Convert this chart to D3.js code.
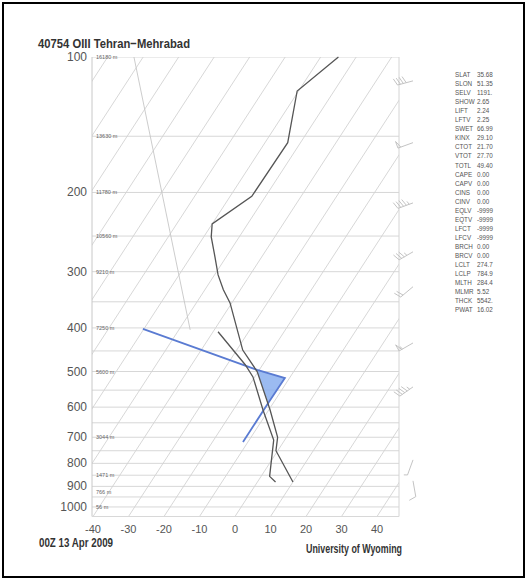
<!DOCTYPE html>
<html><head><meta charset="utf-8">
<script src="https://cdn.jsdelivr.net/npm/d3@7"></script>
<style>body{margin:0;background:#fff}</style>
</head><body><svg id="c" width="528" height="581"></svg>
<script>
// ---- data ----
const tempPressure = [880, 750, 700, 609, 500, 448, 352, 329, 305, 278, 251, 235, 204, 155, 119, 100];
const tempValues   = [10.0, -0.5, -2.5, -9.6, -20.3, -28.3, -40.5, -44.8, -49.0, -53.2, -57.9, -60.0, -53.9, -53.6, -60.4, -55.0];
const dewPressure  = [880, 855, 710, 609, 514, 483, 408];
const dewValues    = [5.1, 2.4, -3.1, -11.6, -20.5, -24.9, -38.6];
const bluePressure = [402, 496, 517, 587, 717];
const blueValues   = [-60.3, -20.6, -11.3, -11.4, -11.4];
const shadePressure = [496, 517, 587, 500];
const shadeValues   = [-20.6, -11.3, -11.5, -20.3];
const guidePressure = [100, 404];
const guideValues   = [-112.6, -46.8];
const pressureTicks = [100, 200, 300, 400, 500, 600, 700, 800, 900, 1000];
const isobars = d3.range(100, 1051, 50);
const tempTicks = [-40, -30, -20, -10, 0, 10, 20, 30, 40];
const isothermBase = d3.range(-160, 50, 10);
const heightPressure = [100, 150, 200, 250, 300, 400, 500, 700, 850, 925, 1000];
const heightLabels = ["16180 m", "13630 m", "11780 m", "10560 m", "9210 m", "7250 m", "5600 m", "3044 m", "1471 m", "766 m", "56 m"];
const windPressure = [113, 155, 211, 271, 324, 432, 541, 786, 875];
const windDir      = [255, 250, 250, 240, 230, 240, 235, 200, 170];
const windSpeed    = [40, 50, 45, 35, 20, 55, 45, 5, 10];
const indexNames  = ["SLAT","SLON","SELV","SHOW","LIFT","LFTV","SWET","KINX","CTOT","VTOT","TOTL","CAPE","CAPV","CINS","CINV","EQLV","EQTV","LFCT","LFCV","BRCH","BRCV","LCLT","LCLP","MLTH","MLMR","THCK","PWAT"];
const indexValues = ["35.68","51.35","1191.","2.65","2.24","2.25","66.99","29.10","21.70","27.70","49.40","0.00","0.00","0.00","0.00","-9999","-9999","-9999","-9999","0.00","0.00","274.7","784.9","284.4","5.52","5542.","16.02"];
const titleText = "40754 OIII Tehran\u2212Mehrabad";
const dateText = "00Z 13 Apr 2009";
const creditText = "University of Wyoming";

// ---- layout ----
const svg = d3.select("#c");
const L = 92, R = 399, T0 = 57, B = 516.5, SKEW = 0.65;
const y = d3.scaleLog().domain([100, 1050]).range([T0, B]);
const xb = d3.scaleLinear().domain([-40, 40]).range([93, 377]);
const X = (t, p) => xb(t) + SKEW * (B - y(p));
const narrow = "'Liberation Sans Narrow','Arial Narrow',Arial,sans-serif";

svg.append("rect").attr("x", 0).attr("y", 0).attr("width", 528).attr("height", 581).attr("fill", "#fff");
svg.append("rect").attr("x", 3).attr("y", 3).attr("width", 521).attr("height", 574)
  .attr("fill", "none").attr("stroke", "#000").attr("stroke-width", 2);

svg.append("defs").append("clipPath").attr("id", "clip")
  .append("rect").attr("x", L).attr("y", T0).attr("width", R - L).attr("height", B - T0);
const g = svg.append("g").attr("clip-path", "url(#clip)");

// isobars
g.selectAll("line.isobar").data(isobars).join("line")
  .attr("x1", L).attr("x2", R).attr("y1", d => y(d)).attr("y2", d => y(d))
  .attr("stroke", "#d2d2d2").attr("stroke-width", 0.9);
// isotherms
g.selectAll("line.iso").data(isothermBase).join("line")
  .attr("x1", d => X(d, 1050)).attr("y1", y(1050)).attr("x2", d => X(d, 100)).attr("y2", y(100))
  .attr("stroke", "#d2d2d2").attr("stroke-width", 0.9);

const zipTP = (ps, ts) => ps.map((p, i) => [p, ts[i]]);
const lineTP = d3.line().x(d => X(d[1], d[0])).y(d => y(d[0]));
// faint guide line (upper left)
g.append("path").attr("d", lineTP(zipTP(guidePressure, guideValues)))
  .attr("fill", "none").attr("stroke", "#c6c6c6").attr("stroke-width", 0.9);

// border
svg.append("line").attr("x1", L).attr("x2", L).attr("y1", T0).attr("y2", B).attr("stroke", "#c8c8c8");
svg.append("line").attr("x1", R).attr("x2", R).attr("y1", T0).attr("y2", B).attr("stroke", "#d4d4d4");
svg.append("line").attr("x1", L).attr("x2", R).attr("y1", B).attr("y2", B).attr("stroke", "#d8d8d8");

// shaded area + blue line
svg.append("path").attr("d", lineTP(zipTP(shadePressure, shadeValues)) + "Z")
  .attr("fill", "#82aaee").attr("fill-opacity", 0.8).attr("stroke", "none");
svg.append("path").attr("d", lineTP(zipTP(bluePressure, blueValues)))
  .attr("fill", "none").attr("stroke", "#5a7bd2").attr("stroke-width", 1.8);

// temperature & dewpoint
svg.append("path").attr("d", lineTP(zipTP(tempPressure, tempValues)))
  .attr("fill", "none").attr("stroke", "#555").attr("stroke-width", 1.3);
svg.append("path").attr("d", lineTP(zipTP(dewPressure, dewValues)))
  .attr("fill", "none").attr("stroke", "#555").attr("stroke-width", 1.3);

// pressure labels
svg.selectAll("text.p").data(pressureTicks).join("text")
  .attr("x", 87).attr("y", d => y(d) + 4).attr("text-anchor", "end")
  .attr("font-family", narrow).attr("font-size", 12).attr("fill", "#555").text(d => d);
// height labels
svg.selectAll("text.h").data(heightPressure).join("text")
  .attr("x", 96).attr("y", (d) => y(d) + 2).attr("font-family", narrow)
  .attr("font-size", 5.5).attr("fill", "#666").text((d, i) => heightLabels[i]);
// temperature ticks
svg.selectAll("text.t").data(tempTicks).join("text")
  .attr("x", d => xb(d)).attr("y", 533).attr("text-anchor", "middle")
  .attr("font-family", narrow).attr("font-size", 11).attr("fill", "#555").text(d => d);

// wind barbs
const wb = svg.append("g").attr("stroke", "#bcbcbc").attr("stroke-width", 0.9).attr("fill", "none");
windPressure.forEach((p, i) => {
  const cx = 413, cy = y(p);
  const a = windDir[i] * Math.PI / 180;
  const ux = Math.sin(a), uy = -Math.cos(a);
  const len = 16;
  const ex = cx + ux * len, ey = cy + uy * len;
  wb.append("line").attr("x1", cx).attr("y1", cy).attr("x2", ex).attr("y2", ey);
  const px = -uy, py = ux;
  let s = windSpeed[i], pos = 0;
  while (s >= 50) {
    const bx = ex - ux * pos, by = ey - uy * pos;
    wb.append("path").attr("d", `M${bx},${by}L${bx + px * 7},${by + py * 7}L${bx - ux * 3},${by - uy * 3}`);
    pos += 4; s -= 50;
  }
  while (s >= 10) {
    const bx = ex - ux * pos, by = ey - uy * pos;
    wb.append("line").attr("x1", bx).attr("y1", by)
      .attr("x2", bx + px * 7 + ux * 2.5).attr("y2", by + py * 7 + uy * 2.5);
    pos += 3; s -= 10;
  }
  if (s >= 5) {
    const bx = ex - ux * pos, by = ey - uy * pos;
    wb.append("line").attr("x1", bx).attr("y1", by)
      .attr("x2", bx + px * 3.5 + ux * 1.2).attr("y2", by + py * 3.5 + uy * 1.2);
  }
});

// station indices
const idx = svg.append("g").attr("font-family", narrow).attr("font-size", 6.3).attr("fill", "#555");
indexNames.forEach((n, i) => {
  idx.append("text").attr("x", 455).attr("y", 77 + i * 9.05).text(n);
  idx.append("text").attr("x", 477).attr("y", 77 + i * 9.05).text(indexValues[i]);
});

// titles
svg.append("text").attr("x", 38).attr("y", 48).attr("font-family", narrow).attr("font-weight", "bold")
  .attr("font-size", 13.5).attr("fill", "#333").attr("textLength", 152).attr("lengthAdjust", "spacingAndGlyphs")
  .text(titleText);
svg.append("text").attr("x", 39).attr("y", 547).attr("font-family", narrow).attr("font-weight", "bold")
  .attr("font-size", 13).attr("fill", "#333").attr("textLength", 74).attr("lengthAdjust", "spacingAndGlyphs")
  .text(dateText);
svg.append("text").attr("x", 306).attr("y", 553).attr("font-family", narrow).attr("font-weight", "bold")
  .attr("font-size", 13).attr("fill", "#333").attr("textLength", 96).attr("lengthAdjust", "spacingAndGlyphs")
  .text(creditText);
</script></body></html>
